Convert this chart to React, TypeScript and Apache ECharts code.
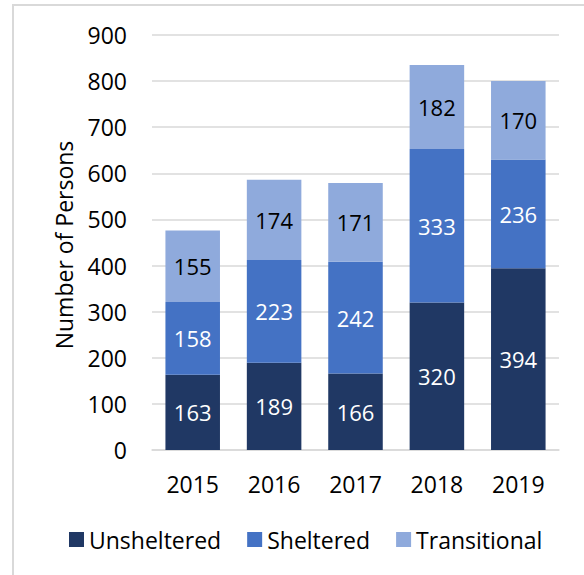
import React, { useEffect, useRef } from "react";
import * as echarts from "echarts";

const years = ["2015", "2016", "2017", "2018", "2019"];
const unsheltered = [163, 189, 166, 320, 394];
const sheltered = [158, 223, 242, 333, 236];
const transitional = [155, 174, 171, 182, 170];
const yTicks = { min: 0, max: 900, interval: 100 };

const FONT = "'Open Sans', 'Noto Sans', sans-serif";

export default function App() {
  const ref = useRef<HTMLDivElement>(null);
  useEffect(() => {
    if (!ref.current) return;
    const chart = echarts.init(ref.current, null, { renderer: "svg" });
    const labelBase = {
      show: true,
      position: "inside",
      fontFamily: FONT,
      fontSize: 22,
    };
    const mk = (name: string, data: number[], color: string, labelColor: string) => ({
      name,
      type: "bar",
      stack: "total",
      data,
      barWidth: "67%",
      itemStyle: { color },
      label: { ...labelBase, color: labelColor },
    });
    chart.setOption({
      animation: false,
      textStyle: { fontFamily: FONT },
      grid: { left: 152, right: 25, top: 35, bottom: 125, containLabel: false },
      legend: {
        left: 64,
        top: 523,
        itemWidth: 15,
        itemHeight: 15,
        itemGap: 26,
        icon: "rect",
        textStyle: { fontFamily: FONT, fontSize: 23, color: "#000" },
        data: ["Unsheltered", "Sheltered", "Transitional"],
      },
      xAxis: {
        type: "category",
        data: years,
        axisLine: { lineStyle: { color: "#d9d9d9", width: 1.5 } },
        axisTick: { show: false },
        axisLabel: { fontFamily: FONT, fontSize: 23, color: "#000", margin: 22 },
      },
      yAxis: {
        type: "value",
        min: yTicks.min,
        max: yTicks.max,
        interval: yTicks.interval,
        axisLine: { show: false },
        axisTick: { show: false },
        splitLine: { lineStyle: { color: "#d9d9d9", width: 1.5 } },
        axisLabel: { fontFamily: FONT, fontSize: 23, color: "#000", margin: 25 },
      },
      graphic: [
        {
          type: "text",
          x: 64,
          y: 245,
          rotation: Math.PI / 2,
          style: {
            text: "Number of Persons",
            fontFamily: FONT,
            fontSize: 23,
            fill: "#000",
            textAlign: "center",
            textVerticalAlign: "middle",
          },
        },
        {
          type: "line",
          shape: { x1: 13, y1: 5, x2: 13, y2: 575 },
          style: { stroke: "#d9d9d9", lineWidth: 2 },
        },
        {
          type: "line",
          shape: { x1: 12, y1: 5, x2: 584, y2: 5 },
          style: { stroke: "#d9d9d9", lineWidth: 2 },
        },
      ],
      series: [
        mk("Unsheltered", unsheltered, "#203864", "#fff"),
        mk("Sheltered", sheltered, "#4472C4", "#fff"),
        mk("Transitional", transitional, "#8FAADC", "#000"),
      ],
    });
    return () => chart.dispose();
  }, []);
  return (
    <div
      ref={ref}
      style={{ position: "fixed", left: 0, top: 0, width: 584, height: 575, background: "#fff" }}
    />
  );
}
